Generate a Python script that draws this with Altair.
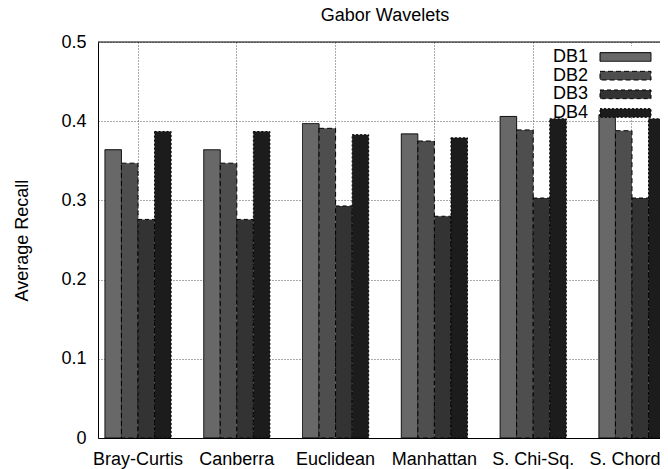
import altair as alt
import pandas as pd

categories = ["Bray-Curtis", "Canberra", "Euclidean", "Manhattan", "S. Chi-Sq.", "S. Chord"]
series = ["DB1", "DB2", "DB3", "DB4"]
db1 = [0.364, 0.364, 0.397, 0.384, 0.406, 0.408]
db2 = [0.347, 0.347, 0.391, 0.375, 0.389, 0.388]
db3 = [0.276, 0.276, 0.293, 0.280, 0.303, 0.303]
db4 = [0.387, 0.387, 0.383, 0.379, 0.403, 0.403]
y_ticks = [0, 0.1, 0.2, 0.3, 0.4, 0.5]

rows = []
for s, vals in zip(series, [db1, db2, db3, db4]):
    for c, v in zip(categories, vals):
        rows.append({"category": c, "series": s, "value": v})
df = pd.DataFrame(rows)
leg = pd.DataFrame({"series": series})

FONT = "Liberation Sans"
FS = 18
W, H = 562, 396        # visible plot area (the frame continues past the right edge)
XR = 574               # full width of the x range, partly cut off like the reference
fills = ["#686868", "#4e4e4e", "#333333", "#1c1c1c"]
dashes = [[1, 0], [5, 3], [4, 3], [2, 2]]

color = alt.Color("series:N", scale=alt.Scale(domain=series, range=fills), legend=None)
dash = alt.StrokeDash("series:N", scale=alt.Scale(domain=series, range=dashes), legend=None)

bg = alt.Chart(pd.DataFrame({"k": [0]})).mark_rect(fill="white").encode(
    x=alt.value(447), x2=alt.value(562), y=alt.value(4), y2=alt.value(72)
)

bars = alt.Chart(df).mark_bar(stroke="black", strokeWidth=1).encode(
    x=alt.X(
        "category:N", sort=categories, title=None,
        scale=alt.Scale(paddingInner=0.33, paddingOuter=0.07, range=[0, XR]),
        axis=alt.Axis(labelAngle=0, labelFont=FONT, labelFontSize=FS, labelColor="black",
                      labelPadding=12, ticks=False, domain=True, domainColor="black",
                      domainWidth=1, grid=True,
                      labelOffset={"condition": {"test": "datum.value === 'S. Chord'", "value": -7},
                                   "value": 0},
                      gridColor="#555555", gridDash=[1, 2], gridWidth=1, bandPosition=0.5),
    ),
    xOffset=alt.XOffset("series:N", sort=series, scale=alt.Scale(paddingInner=0, paddingOuter=0)),
    y=alt.Y(
        "value:Q", scale=alt.Scale(domain=[0, 0.5], nice=False),
        axis=alt.Axis(values=y_ticks, title="Average Recall",
                      labelExpr="datum.value == 0 ? '0' : format(datum.value, '.1f')",
                      labelFont=FONT, labelFontSize=FS, labelColor="black", labelPadding=12,
                      ticks=False, domain=True, domainColor="black", domainWidth=1,
                      grid=True, gridColor="#555555",
                      gridDash=[1, 2], gridWidth=1,
                      titleFont=FONT, titleFontSize=FS, titleFontWeight="normal",
                      titleColor="black", titlePadding=29),
    ),
    color=color,
    strokeDash=dash,
)

top_border = alt.Chart(pd.DataFrame({"k": [0]})).mark_rule(color="black", strokeWidth=1).encode(
    x=alt.value(0), x2=alt.value(XR), y=alt.value(0)
)

leg_y = alt.Y("series:N", sort=series, axis=None,
              scale=alt.Scale(type="point", domain=series, range=[15, 71], padding=0))

leg_sym = alt.Chart(leg).mark_point(
    shape="M-1,-0.17H1V0.17H-1Z", size=2601, filled=True, stroke="black",
    strokeWidth=1, opacity=1
).encode(x=alt.value(527.5), y=leg_y, color=color, strokeDash=dash)

leg_txt = alt.Chart(leg).mark_text(
    align="right", baseline="middle", font=FONT, fontSize=FS, color="black"
).encode(x=alt.value(490), y=leg_y, text="series:N")

chart = alt.layer(bg, bars, top_border, leg_sym, leg_txt).resolve_scale(y="independent").properties(
    width=W, height=H,
    title=alt.TitleParams("Gabor Wavelets", font=FONT, fontSize=FS, fontWeight="normal",
                          offset=8, dx=6, anchor="middle", color="black"),
    padding={"left": 90, "top": 34, "right": 0, "bottom": 31},
    autosize="none",
).configure_view(stroke=None)

chart.save("out.html", embed_options={"renderer": "svg", "actions": False})
